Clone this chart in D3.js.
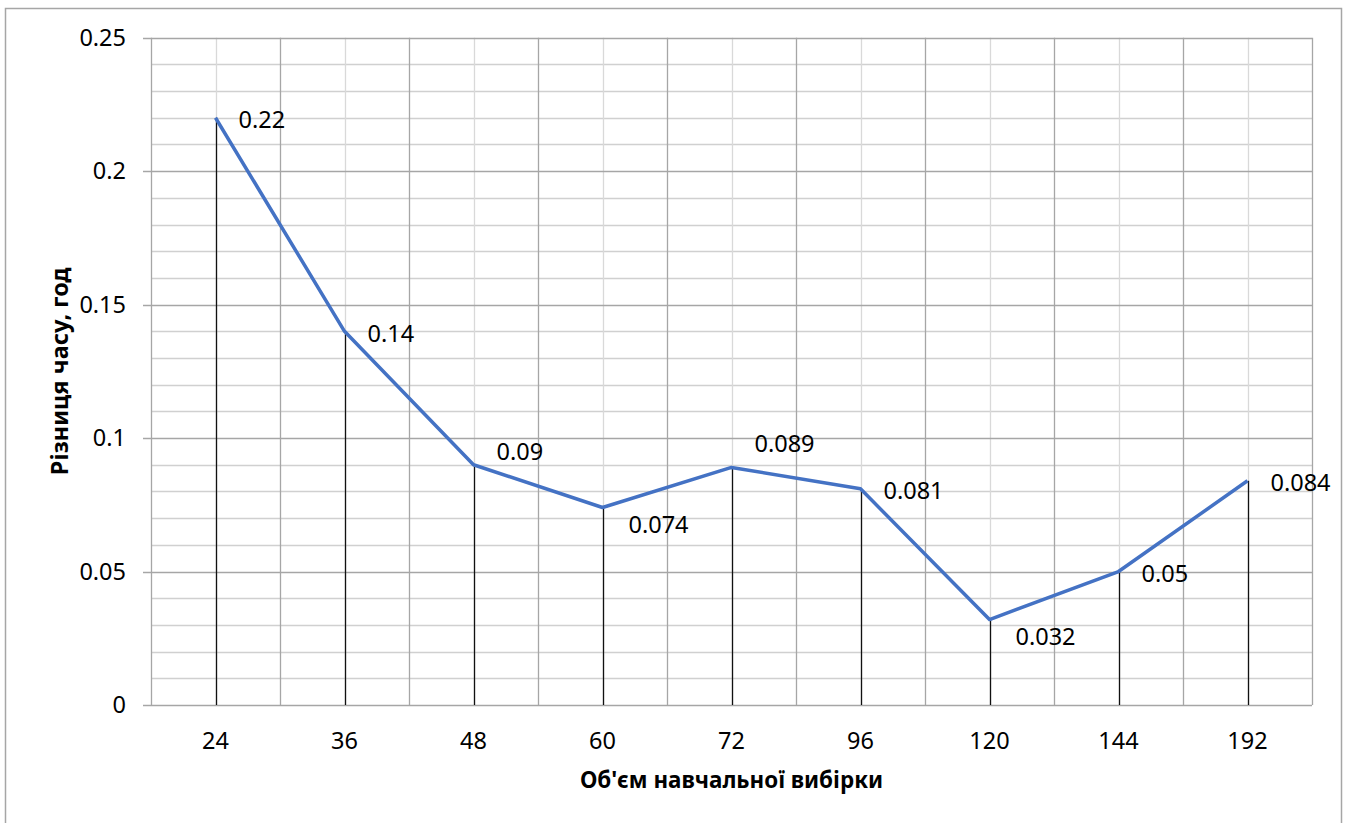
<!DOCTYPE html>
<html>
<head>
<meta charset="utf-8">
<script src="https://cdn.jsdelivr.net/npm/d3@7"></script>
<style>
  body { margin: 0; background: #fff; }
  svg { display: block; font-family: "Noto Sans", sans-serif; }
</style>
</head>
<body>
<div id="chart"></div>
<script>
// data
const sizes = ['24', '36', '48', '60', '72', '96', '120', '144', '192'];
const diffs = [0.22, 0.14, 0.09, 0.074, 0.089, 0.081, 0.032, 0.05, 0.084];
const labelPlace = ['right', 'right', 'above', 'below', 'high', 'right', 'below', 'right', 'right'];
const yTicks = [0, 0.05, 0.1, 0.15, 0.2, 0.25];
const yTickText = ['0', '0.05', '0.1', '0.15', '0.2', '0.25'];

const width = 1349,
      height = 823,
      margin = {top: 37.7, right: 37, bottom: 118, left: 151};

// offsets for each label placement
const placeOffset = {right: 2, above: -13, below: 17, high: -24};

const svg = d3.select('#chart').append('svg')
  .attr('width', width)
  .attr('height', height);

// outer chart border
svg.append('rect')
  .attr('x', 5.5).attr('y', 8.5)
  .attr('width', 1336).attr('height', 830)
  .attr('fill', 'none')
  .attr('stroke', '#a6a6a6')
  .attr('stroke-width', 1.5);

const x = d3.scaleBand()
  .domain(sizes)
  .range([margin.left, width - margin.right])
  .padding(0);

const y = d3.scaleLinear()
  .domain([0, 0.25])
  .range([height - margin.bottom, margin.top]);

const grid = svg.append('g');

// minor horizontal gridlines every 0.01
const minor = d3.range(1, 25).map(i => i / 100).filter(v => Math.round(v * 100) % 5 !== 0);
grid.selectAll('.minor')
  .data(minor).enter().append('line')
  .attr('x1', margin.left).attr('x2', width - margin.right)
  .attr('y1', d => Math.round(y(d)) + 0.5).attr('y2', d => Math.round(y(d)) + 0.5)
  .attr('stroke', '#d0d0d0').attr('stroke-width', 1.3);

// light vertical lines at category centers
grid.selectAll('.vc')
  .data(sizes).enter().append('line')
  .attr('x1', d => Math.round(x(d) + x.bandwidth() / 2) + 0.5)
  .attr('x2', d => Math.round(x(d) + x.bandwidth() / 2) + 0.5)
  .attr('y1', y(0.25)).attr('y2', y(0))
  .attr('stroke', '#d9d9d9').attr('stroke-width', 1.3);

// darker vertical lines at category boundaries
const bounds = sizes.map(d => x(d)).concat([width - margin.right]);
grid.selectAll('.vb')
  .data(bounds).enter().append('line')
  .attr('x1', d => Math.round(d) + 0.5).attr('x2', d => Math.round(d) + 0.5)
  .attr('y1', y(0.25)).attr('y2', y(0))
  .attr('stroke', '#a6a6a6').attr('stroke-width', 1.3);

// major horizontal gridlines (with tick stubs on the left)
grid.selectAll('.major')
  .data(yTicks).enter().append('line')
  .attr('x1', margin.left - 8).attr('x2', width - margin.right)
  .attr('y1', d => Math.round(y(d)) + 0.5).attr('y2', d => Math.round(y(d)) + 0.5)
  .attr('stroke', '#a6a6a6').attr('stroke-width', 1.5);

// y tick labels
svg.selectAll('.ylab')
  .data(yTicks).enter().append('text')
  .attr('x', 126)
  .attr('y', d => y(d))
  .attr('dy', '0.35em')
  .attr('text-anchor', 'end')
  .style('font-size', '23.5px')
  .style('fill', '#000')
  .text((d, i) => yTickText[i]);

// x tick labels
svg.selectAll('.xlab')
  .data(sizes).enter().append('text')
  .attr('x', d => x(d) + x.bandwidth() / 2)
  .attr('y', 741)
  .attr('dy', '0.35em')
  .attr('text-anchor', 'middle')
  .style('font-size', '23.5px')
  .style('fill', '#000')
  .text(d => d);

const cx = d => x(d) + x.bandwidth() / 2;

// drop lines
svg.selectAll('.drop')
  .data(sizes).enter().append('line')
  .attr('x1', d => Math.round(cx(d)) + 0.5).attr('x2', d => Math.round(cx(d)) + 0.5)
  .attr('y1', (d, i) => y(diffs[i])).attr('y2', y(0))
  .attr('stroke', '#111').attr('stroke-width', 1.3);

// the series line
const line = d3.line()
  .x(d => cx(d[0]))
  .y(d => y(d[1]));

svg.append('path')
  .datum(d3.zip(sizes, diffs))
  .attr('d', line)
  .attr('fill', 'none')
  .attr('stroke', '#4472c4')
  .attr('stroke-width', 3.5)
  .attr('stroke-linejoin', 'round');

// data labels
svg.selectAll('.dlab')
  .data(sizes).enter().append('text')
  .attr('x', (d, i) => cx(d) + (labelPlace[i] === 'below' ? 26 : 23))
  .attr('y', (d, i) => y(diffs[i]) + placeOffset[labelPlace[i]])
  .attr('dy', '0.35em')
  .style('font-size', '23.5px')
  .style('fill', '#000')
  .text((d, i) => diffs[i]);

// axis titles
svg.append('text')
  .attr('x', (margin.left + width - margin.right) / 2)
  .attr('y', 780)
  .attr('dy', '0.35em')
  .attr('text-anchor', 'middle')
  .style('font-size', '22.4px')
  .style('font-weight', 'bold')
  .text("Об'єм навчальної вибірки");

svg.append('text')
  .attr('transform', `translate(60, ${(margin.top + height - margin.bottom) / 2}) rotate(-90)`)
  .attr('dy', '0.35em')
  .attr('text-anchor', 'middle')
  .style('font-size', '23.5px')
  .style('font-weight', 'bold')
  .text('Різниця часу, год');
</script>
</body>
</html>
